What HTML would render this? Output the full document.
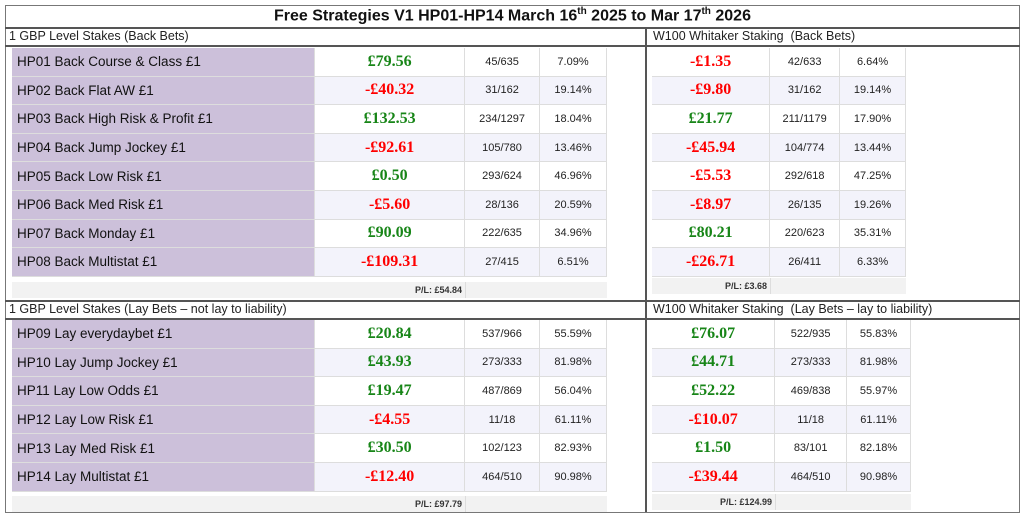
<!DOCTYPE html>
<html><head><meta charset="utf-8"><style>
body{margin:0;width:1024px;height:518px;background:#fff;position:relative;overflow:hidden;font-family:"Liberation Sans",sans-serif}
.a{position:absolute}
.box{left:5px;top:5px;width:1013px;height:506px;border:1.5px solid #777}
.hl{height:1.5px;background:#555}
.vl{width:1.5px;background:#555}
.title{left:5px;top:6px;width:1015px;text-align:center;font-weight:bold;font-size:16px;color:#111}
.title sup{font-size:10px}
.sh{font-size:12.5px;color:#222}
table{border-collapse:collapse;position:absolute}
td{height:27.6px;border-bottom:1px solid #ddd;border-right:1px solid #ddd;padding:0;font-size:11px;color:#222;text-align:center}
tr:nth-child(even) td{background:#f3f3fb}
td.n{background:#ccc0da!important;text-align:left;padding-left:5px;font-size:13.5px;color:#111}
td.v{font-family:"Liberation Serif",serif;font-weight:bold;font-size:16px}
.g{color:#178517}.r{color:#f00}
.pl{font-size:9px;font-weight:bold;color:#333;text-align:right;background:#f2f2f2;height:16px;line-height:16px}
</style></head><body>
<div class="a box"></div>
<div class="a title">Free Strategies V1 HP01-HP14 March 16<sup>th</sup> 2025 to Mar 17<sup>th</sup> 2026</div>
<div class="a hl" style="left:5px;top:27px;width:1015px"></div>
<div class="a hl" style="left:5px;top:45px;width:1015px"></div>
<div class="a hl" style="left:5px;top:300px;width:1015px"></div>
<div class="a hl" style="left:5px;top:318px;width:1015px"></div>
<div class="a vl" style="left:645px;top:27px;height:485px"></div>
<div class="a sh" style="left:9px;top:29px">1 GBP Level Stakes (Back Bets)</div>
<div class="a sh" style="left:653px;top:29px">W100 Whitaker Staking&nbsp; (Back Bets)</div>
<div class="a sh" style="left:9px;top:302px">1 GBP Level Stakes (Lay Bets – not lay to liability)</div>
<div class="a sh" style="left:653px;top:302px">W100 Whitaker Staking&nbsp; (Lay Bets – lay to liability)</div>

<table style="left:12px;top:48px;width:595px">
<colgroup><col style="width:303px"><col style="width:150px"><col style="width:75px"><col style="width:67px"></colgroup>
<tr><td class="n">HP01 Back Course &amp; Class £1</td><td class="v g">£79.56</td><td>45/635</td><td>7.09%</td></tr>
<tr><td class="n">HP02 Back Flat AW £1</td><td class="v r">-£40.32</td><td>31/162</td><td>19.14%</td></tr>
<tr><td class="n">HP03 Back High Risk &amp; Profit £1</td><td class="v g">£132.53</td><td>234/1297</td><td>18.04%</td></tr>
<tr><td class="n">HP04 Back Jump Jockey £1</td><td class="v r">-£92.61</td><td>105/780</td><td>13.46%</td></tr>
<tr><td class="n">HP05 Back Low Risk £1</td><td class="v g">£0.50</td><td>293/624</td><td>46.96%</td></tr>
<tr><td class="n">HP06 Back Med Risk £1</td><td class="v r">-£5.60</td><td>28/136</td><td>20.59%</td></tr>
<tr><td class="n">HP07 Back Monday £1</td><td class="v g">£90.09</td><td>222/635</td><td>34.96%</td></tr>
<tr><td class="n">HP08 Back Multistat £1</td><td class="v r">-£109.31</td><td>27/415</td><td>6.51%</td></tr>
</table>
<div class="a pl" style="left:12px;top:282px;width:450px;padding-right:3px;border-right:1px solid #ddd">P/L: £54.84</div>
<div class="a pl" style="left:466px;top:282px;width:141px"></div>

<table style="left:652px;top:48px;width:254px">
<colgroup><col style="width:118px"><col style="width:70px"><col style="width:66px"></colgroup>
<tr><td class="v r">-£1.35</td><td>42/633</td><td>6.64%</td></tr>
<tr><td class="v r">-£9.80</td><td>31/162</td><td>19.14%</td></tr>
<tr><td class="v g">£21.77</td><td>211/1179</td><td>17.90%</td></tr>
<tr><td class="v r">-£45.94</td><td>104/774</td><td>13.44%</td></tr>
<tr><td class="v r">-£5.53</td><td>292/618</td><td>47.25%</td></tr>
<tr><td class="v r">-£8.97</td><td>26/135</td><td>19.26%</td></tr>
<tr><td class="v g">£80.21</td><td>220/623</td><td>35.31%</td></tr>
<tr><td class="v r">-£26.71</td><td>26/411</td><td>6.33%</td></tr>
</table>
<div class="a pl" style="left:652px;top:278px;width:115px;padding-right:3px;border-right:1px solid #ddd">P/L: £3.68</div>
<div class="a pl" style="left:771px;top:278px;width:135px"></div>

<table style="left:12px;top:320px;width:595px">
<colgroup><col style="width:303px"><col style="width:150px"><col style="width:75px"><col style="width:67px"></colgroup>
<tr><td class="n">HP09 Lay everydaybet £1</td><td class="v g">£20.84</td><td>537/966</td><td>55.59%</td></tr>
<tr><td class="n">HP10 Lay Jump Jockey £1</td><td class="v g">£43.93</td><td>273/333</td><td>81.98%</td></tr>
<tr><td class="n">HP11 Lay Low Odds £1</td><td class="v g">£19.47</td><td>487/869</td><td>56.04%</td></tr>
<tr><td class="n">HP12 Lay Low Risk £1</td><td class="v r">-£4.55</td><td>11/18</td><td>61.11%</td></tr>
<tr><td class="n">HP13 Lay Med Risk £1</td><td class="v g">£30.50</td><td>102/123</td><td>82.93%</td></tr>
<tr><td class="n">HP14 Lay Multistat £1</td><td class="v r">-£12.40</td><td>464/510</td><td>90.98%</td></tr>
</table>
<div class="a pl" style="left:12px;top:496px;width:450px;padding-right:3px;border-right:1px solid #ddd">P/L: £97.79</div>
<div class="a pl" style="left:466px;top:496px;width:141px"></div>

<table style="left:652px;top:320px;width:259px">
<colgroup><col style="width:123px"><col style="width:72px"><col style="width:64px"></colgroup>
<tr><td class="v g">£76.07</td><td>522/935</td><td>55.83%</td></tr>
<tr><td class="v g">£44.71</td><td>273/333</td><td>81.98%</td></tr>
<tr><td class="v g">£52.22</td><td>469/838</td><td>55.97%</td></tr>
<tr><td class="v r">-£10.07</td><td>11/18</td><td>61.11%</td></tr>
<tr><td class="v g">£1.50</td><td>83/101</td><td>82.18%</td></tr>
<tr><td class="v r">-£39.44</td><td>464/510</td><td>90.98%</td></tr>
</table>
<div class="a pl" style="left:652px;top:494px;width:120px;padding-right:3px;border-right:1px solid #ddd">P/L: £124.99</div>
<div class="a pl" style="left:776px;top:494px;width:135px"></div>
</body></html>
